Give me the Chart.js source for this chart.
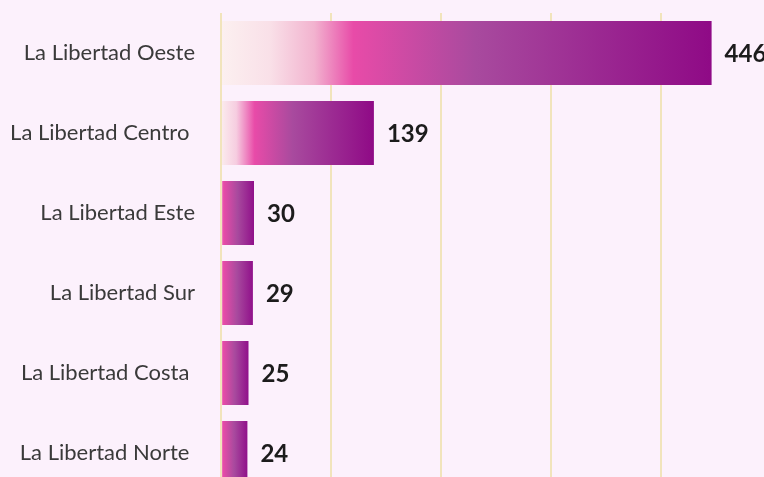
<!DOCTYPE html>
<html>
<head>
<meta charset="utf-8">
<script src="https://cdn.jsdelivr.net/npm/chart.js@4.4.1/dist/chart.umd.min.js"></script>
<style>
  html, body { margin: 0; padding: 0; background: #fcf1fc; overflow: hidden; }
  #wrap { position: relative; width: 790px; height: 500px; }
</style>
</head>
<body>
<div id="wrap"><canvas id="chart"></canvas></div>
<script>
const regions = ["La Libertad Oeste", "La Libertad Centro ", "La Libertad Este", "La Libertad Sur", "La Libertad Costa ", "La Libertad Norte "];
const counts = [446, 139, 30, 29, 25, 24];
const xTicks = [0, 100, 200, 300, 400, 500];

// each bar gets its own left-to-right gradient
function barFill(ctx) {
  const chart = ctx.chart;
  const xs = chart.scales.x;
  if (!xs || ctx.parsed == null) return '#a84a9e';
  const x0 = xs.getPixelForValue(0);
  const x1 = xs.getPixelForValue(ctx.parsed.x);
  if (!isFinite(x0) || !isFinite(x1) || x1 <= x0) return '#a84a9e';
  const g = chart.ctx.createLinearGradient(x0, 0, x1, 0);
  if (x1 - x0 > 300) {
    g.addColorStop(0, '#fcf0f0');
    g.addColorStop(0.1, '#f9e0e8');
    g.addColorStop(0.19, '#f2b3cf');
    g.addColorStop(0.27, '#e84ba8');
    g.addColorStop(0.52, '#a84a9e');
    g.addColorStop(1, '#8f0a86');
  } else if (x1 - x0 > 100) {
    g.addColorStop(0, '#fbecee');
    g.addColorStop(0.1, '#f6cde0');
    g.addColorStop(0.22, '#e84ba8');
    g.addColorStop(0.47, '#a84a9e');
    g.addColorStop(1, '#8f0a86');
  } else {
    g.addColorStop(0, '#f3b0d2');
    g.addColorStop(0.08, '#e84ba8');
    g.addColorStop(0.5, '#a84a9e');
    g.addColorStop(1, '#90108a');
  }
  return g;
}

// value labels at the end of each bar
const endLabels = {
  id: 'endLabels',
  afterDatasetsDraw(chart) {
    const c = chart.ctx;
    const meta = chart.getDatasetMeta(0);
    c.save();
    c.font = 'bold 24px Lato';
    c.fillStyle = '#1c1c1c';
    c.textAlign = 'left';
    c.textBaseline = 'middle';
    meta.data.forEach((bar, i) => {
      c.fillText(String(counts[i]), bar.x + 13, bar.y + 1);
    });
    c.restore();
  }
};

new Chart(document.getElementById('chart'), {
  type: 'bar',
  data: {
    labels: regions,
    datasets: [{
      data: counts,
      backgroundColor: barFill,
      borderWidth: 0,
      categoryPercentage: 1,
      barPercentage: 0.8
    }]
  },
  options: {
    indexAxis: 'y',
    responsive: true,
    maintainAspectRatio: false,
    animation: false,
    layout: { padding: { top: 13, bottom: 7, left: 0, right: 19 } },
    plugins: { legend: { display: false }, tooltip: { enabled: false } },
    scales: {
      x: {
        min: xTicks[0],
        max: xTicks[xTicks.length - 1],
        z: 1,
        afterBuildTicks: s => { s.ticks = xTicks.map(v => ({ value: v })); },
        afterFit: s => { s.height = 0; s.paddingLeft = 0; s.paddingRight = 0; },
        ticks: { display: false },
        border: { display: false },
        grid: { color: 'rgba(228,212,110,0.45)', lineWidth: 2, drawTicks: false }
      },
      y: {
        afterFit: s => { s.width = 221; s.paddingTop = 0; s.paddingBottom = 0; },
        border: { display: false },
        grid: { display: false, drawTicks: false },
        ticks: { color: '#3a3a3a', padding: 26, font: { family: 'Lato', size: 22 } }
      }
    }
  },
  plugins: [endLabels]
});
</script>
</body>
</html>
